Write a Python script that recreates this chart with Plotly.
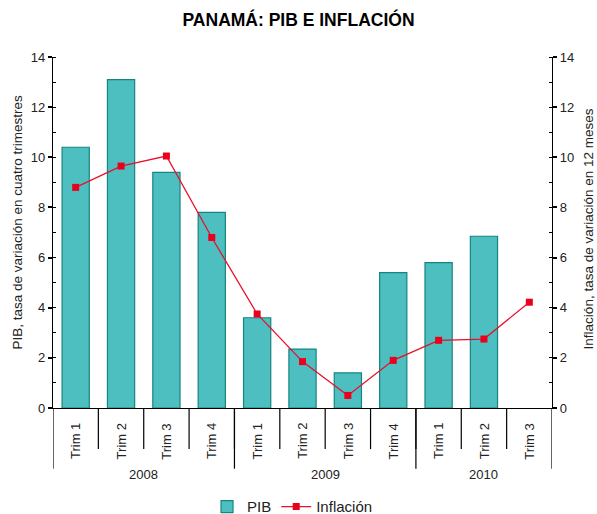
import plotly.graph_objects as go

quarters = ["Trim 1", "Trim 2", "Trim 3", "Trim 4",
            "Trim 1", "Trim 2", "Trim 3", "Trim 4",
            "Trim 1", "Trim 2", "Trim 3"]
years = ["2008", "2009", "2010"]
year_counts = [4, 4, 3]
pib = [10.4, 13.1, 9.4, 7.8, 3.6, 2.35, 1.4, 5.4, 5.8, 6.85, None]
inflacion = [8.8, 9.65, 10.05, 6.8, 3.75, 1.85, 0.5, 1.9, 2.7, 2.75, 4.22]

xs = list(range(len(quarters)))
font_family = "Liberation Sans, Arial, sans-serif"

fig = go.Figure()
fig.add_trace(go.Bar(
    x=xs, y=pib, name="PIB", width=0.6,
    marker=dict(color="#4DBFC1", line=dict(color="#17857F", width=1.2)),
))
fig.add_trace(go.Scatter(
    x=xs, y=inflacion, name="Inflación", yaxis="y2", mode="lines+markers",
    line=dict(color="#E8102A", width=1.3),
    marker=dict(symbol="square", size=7, color="#E8001C"),
))

shapes = []
annotations = []
# quarter separators
for i in range(len(quarters) - 1):
    shapes.append(dict(type="line", xref="x", yref="paper", x0=i + 0.5, x1=i + 0.5,
                       y0=0, y1=-0.117, line=dict(color="black", width=1.2)))
# year separators and labels
start = 0
bounds = [-0.5]
for c in year_counts:
    bounds.append(start + c - 0.5)
    start += c
for b in bounds:
    shapes.append(dict(type="line", xref="x", yref="paper", x0=b, x1=b,
                       y0=0, y1=-0.173, line=dict(color="black", width=1.2)))
for k, yname in enumerate(years):
    annotations.append(dict(x=(bounds[k] + bounds[k + 1]) / 2, y=-0.163, xref="x", yref="paper",
                            text=yname, showarrow=False, yanchor="top",
                            font=dict(size=13, color="#222")))
for i, q in enumerate(quarters):
    annotations.append(dict(x=i, y=-0.038, xref="x", yref="paper", text=q, showarrow=False,
                            textangle=-90, yanchor="top", font=dict(size=13, color="#222")))
# axis titles
annotations.append(dict(x=-0.09, y=0.53, xref="paper", yref="paper", textangle=-90,
                        text="PIB, tasa de variación en cuatro trimestres", showarrow=False,
                        font=dict(size=13.5, color="#222")))
annotations.append(dict(x=1.094, y=0.51, xref="paper", yref="paper", textangle=-90,
                        text="Inflación, tasa de variación en 12 meses", showarrow=False,
                        font=dict(size=13.5, color="#222")))

tickvals = list(range(0, 15, 2))
axis_common = dict(range=[0, 14], tickvals=tickvals, ticks="outside", ticklen=4, tickwidth=1.5,
                   tickcolor="black", showgrid=False, zeroline=False, showline=True,
                   linecolor="black", linewidth=1.2, automargin=False,
                   minor=dict(dtick=1, ticks="inside", ticklen=3, tickwidth=1.2, tickcolor="black"),
                   tickfont=dict(size=13, color="#222"))
fig.update_layout(
    width=597, height=514,
    margin=dict(l=53, r=45, t=57, b=106, autoexpand=False),
    plot_bgcolor="white", paper_bgcolor="white",
    font=dict(family=font_family, size=12, color="#222"),
    title=dict(text="<b>PANAMÁ: PIB E INFLACIÓN</b>", x=0.5, xanchor="center",
               y=0.961, yanchor="middle", font=dict(size=17.5, color="black")),
    xaxis=dict(range=[-0.5, 10.5], showticklabels=False, ticks="", showgrid=False,
               zeroline=False, showline=True, linecolor="black", linewidth=1.2, automargin=False),
    yaxis=axis_common,
    yaxis2=dict(axis_common, overlaying="y", side="right"),
    legend=dict(orientation="h", x=0.48, xanchor="center", yref="container", y=0.014,
                yanchor="middle", font=dict(size=15), itemwidth=30),
    shapes=shapes, annotations=annotations, showlegend=True,
)

fig.write_html("out.html", config={"displayModeBar": False},
               post_script="document.body.style.margin='0';")
